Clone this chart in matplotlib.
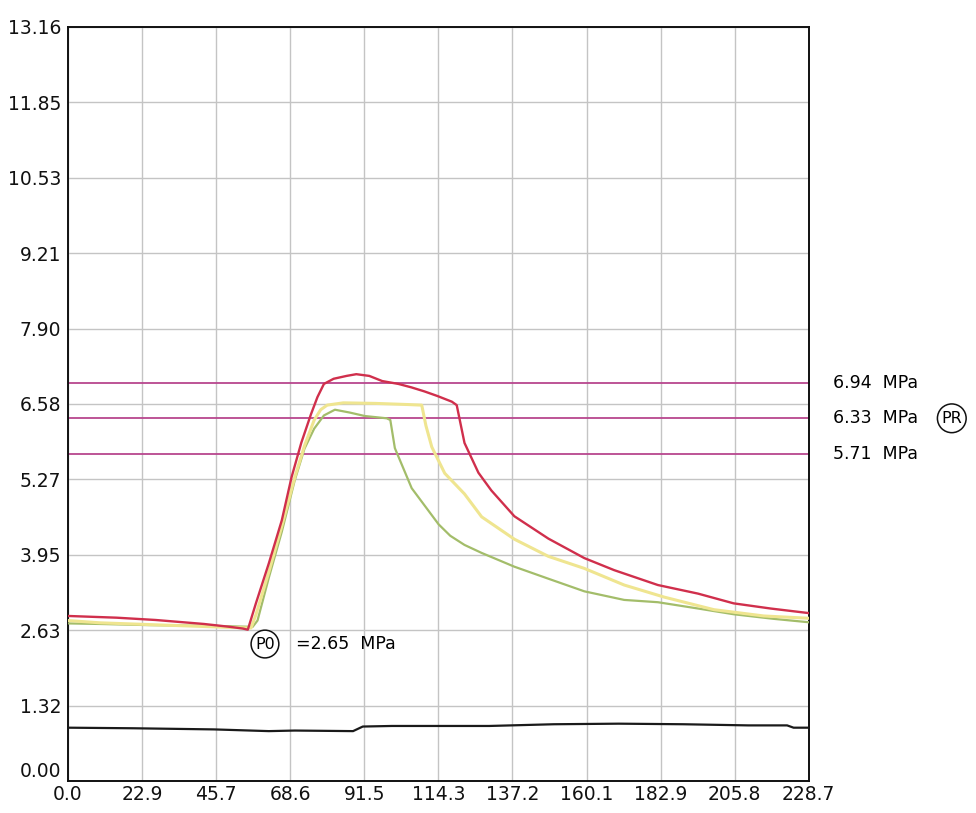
import matplotlib
matplotlib.use("Agg")
import matplotlib.pyplot as plt
import matplotlib.transforms as mtransforms
import numpy as np

# ---- data ----
y_ticks = [0.0, 1.316, 2.632, 3.948, 5.264, 6.58, 7.896, 9.212, 10.528, 11.844, 13.16]
y_labels = ["0.00", "1.32", "2.63", "3.95", "5.27", "6.58", "7.90", "9.21", "10.53", "11.85", "13.16"]
x_ticks = [0.0, 22.87, 45.74, 68.61, 91.48, 114.35, 137.22, 160.09, 182.96, 205.83, 228.7]
x_labels = ["0.0", "22.9", "45.7", "68.6", "91.5", "114.3", "137.2", "160.1", "182.9", "205.8", "228.7"]

red_t = [0, 5, 15, 27, 42, 50, 54, 55.5, 58, 62, 66, 69, 72, 75, 77, 79, 82, 86, 89, 93, 97,
         102, 106, 110, 114, 118.5, 120, 122.4, 126.7, 130.7, 137.8, 148.3, 159.4, 168.6,
         182.1, 194.5, 205.5, 216.9, 228.7]
red_v = [2.88, 2.87, 2.85, 2.81, 2.74, 2.69, 2.66, 2.64, 3.1, 3.8, 4.55, 5.3, 5.9, 6.4, 6.7,
         6.93, 7.02, 7.07, 7.10, 7.07, 6.98, 6.93, 6.87, 6.80, 6.72, 6.62, 6.56, 5.90, 5.38,
         5.07, 4.62, 4.23, 3.89, 3.68, 3.42, 3.27, 3.10, 3.01, 2.93]

yellow_t = [0, 10, 25, 40, 50, 56.5, 58, 62, 66, 70, 73, 76, 78, 80, 85, 95, 105, 109.2,
            110.5, 112.3, 116.3, 122.4, 127.7, 137.8, 148.3, 159.4, 171.7, 184, 199.4,
            214.8, 228.7]
yellow_v = [2.80, 2.76, 2.73, 2.70, 2.68, 2.67, 2.9, 3.65, 4.45, 5.3, 5.85, 6.30, 6.48,
            6.56, 6.60, 6.59, 6.57, 6.56, 6.2, 5.83, 5.37, 5.01, 4.61, 4.22, 3.92, 3.71,
            3.42, 3.21, 2.99, 2.88, 2.84]

green_t = [0, 10, 25, 40, 50, 57, 58.5, 62, 66, 70, 73, 76, 79, 82.4, 87, 91.6, 98.4, 99.5,
           100.9, 106.1, 114.4, 118, 122.4, 127.7, 137.8, 148.3, 159.4, 171.7, 182.1, 194.5,
           205.5, 217.8, 228.7]
green_v = [2.75, 2.74, 2.72, 2.71, 2.70, 2.69, 2.8, 3.55, 4.35, 5.25, 5.8, 6.15, 6.38, 6.48,
           6.43, 6.37, 6.33, 6.30, 5.81, 5.11, 4.48, 4.28, 4.12, 3.98, 3.74, 3.53, 3.31,
           3.16, 3.12, 3.01, 2.91, 2.83, 2.77]

black_t = [0, 20, 45, 62, 70, 88, 91, 100, 130, 150, 170, 190, 210, 222, 224, 228.7]
black_v = [0.93, 0.92, 0.90, 0.87, 0.88, 0.87, 0.95, 0.96, 0.96, 0.99, 1.0, 0.99, 0.97,
           0.97, 0.93, 0.93]

pr_values = [6.94, 6.33, 5.71]
pr_labels = ["6.94  MPa", "6.33  MPa", "5.71  MPa"]
p0_label = "=2.65  MPa"

# ---- figure ----
plt.rcParams['font.family'] = ['DejaVu Sans']
fig = plt.figure(figsize=(9.76, 8.13), dpi=100)
ax = fig.add_axes([0.0697, 0.0394, 0.759, 0.9274])

ax.set_xlim(0, 228.7)
ax.set_ylim(0, 13.16)
ax.set_xticks(x_ticks)
ax.set_xticklabels(x_labels)
ax.set_yticks(y_ticks)
ax.set_yticklabels(y_labels)
ax.tick_params(axis='both', length=0, labelsize=13.5, colors='#111111')
ax.tick_params(axis='y', pad=5)
ax.tick_params(axis='x', pad=3)
ax.grid(True, color='#c4c4c4', linewidth=1.0)
ax.set_axisbelow(True)
for s in ax.spines.values():
    s.set_color('#111111')
    s.set_linewidth(1.4)

# lift the "0.00" label a little so it does not collide with "0.0"
lab0 = ax.get_yticklabels()[0]
lab0.set_transform(lab0.get_transform() +
                   mtransforms.ScaledTranslation(0, 8 / 72, fig.dpi_scale_trans))

for v in pr_values:
    ax.axhline(v, color='#b8468e', linewidth=1.3, zorder=2)

ax.plot(black_t, black_v, color='#1a1a1a', linewidth=1.6, zorder=3)
ax.plot(green_t, green_v, color='#a3bd6a', linewidth=1.6, zorder=4)
ax.plot(yellow_t, yellow_v, color='#efe590', linewidth=2.2, zorder=5)
ax.plot(red_t, red_v, color='#d02f4c', linewidth=1.7, zorder=6)

for v, lab in zip(pr_values, pr_labels):
    ax.text(1.032, v, lab, transform=ax.get_yaxis_transform(), ha='left', va='center',
            fontsize=12.5, clip_on=False)
ax.text(1.193, pr_values[1], "PR", transform=ax.get_yaxis_transform(), ha='center',
        va='center', fontsize=11.5, clip_on=False,
        bbox=dict(boxstyle='circle,pad=0.25', fc='white', ec='#111111', lw=1.1))

ax.text(60.8, 2.39, "P0", ha='center', va='center', fontsize=11.5, zorder=7,
        bbox=dict(boxstyle='circle,pad=0.25', fc='white', ec='#111111', lw=1.1))
ax.text(70.5, 2.39, p0_label, ha='left', va='center', fontsize=12.5, zorder=7)

fig.savefig("out.png", dpi=100)
